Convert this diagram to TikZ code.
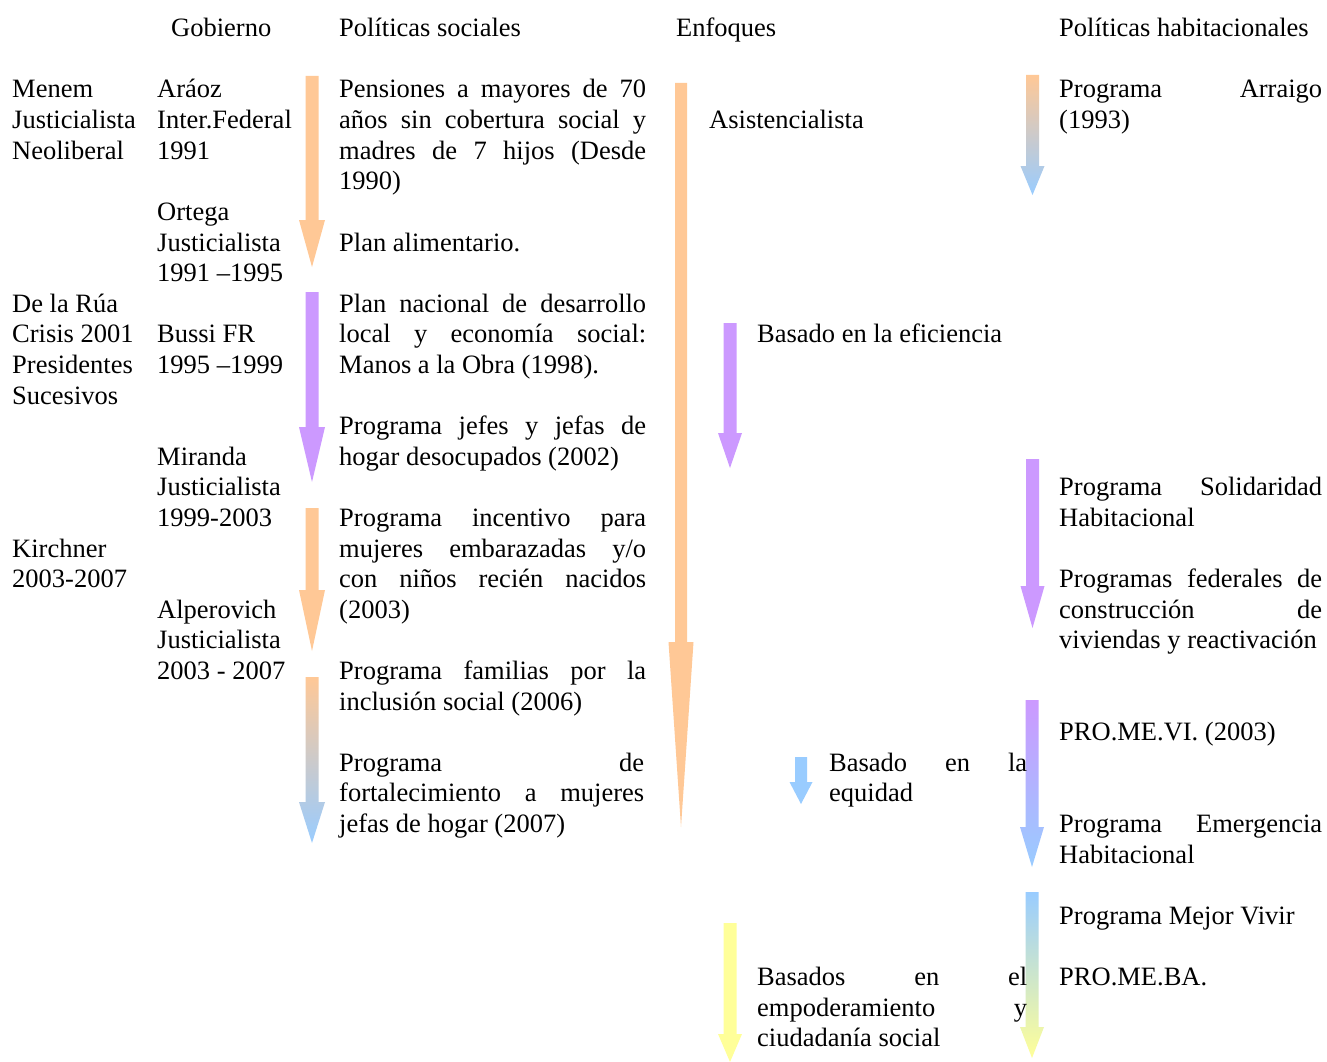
\documentclass[tikz,border=0pt]{standalone}
\usepackage{fontspec}
\setmainfont{Liberation Serif}
\hbadness=10000
\definecolor{orA}{HTML}{FFC896}
\definecolor{puA}{HTML}{CC99FF}
\definecolor{blA}{HTML}{99CCFF}
\definecolor{yeA}{HTML}{FFFF99}
\newcommand\myfnt{\fontsize{26.5}{30.6}\selectfont}
\newcommand\jblk[5]{\node[txt] (#1) at (#2,{98+30.6*(#3)}) {\parbox[t]{#4pt}{\myfnt #5}};}
\newcommand\rblk[5]{\node[txt] (#1) at (#2,{98+30.6*(#3)}) {\parbox[t]{#4pt}{\myfnt\raggedright #5}};}
\newcommand\arw[6]{(#1-#5,#2) -- (#1+#5,#2) -- (#1+#5,#3) -- (#1+#6,#3) -- (#1,#4) -- (#1-#6,#3) -- (#1-#5,#3) -- cycle}
\begin{document}
\begin{tikzpicture}[x=1pt,y=-1pt,
  txt/.style={anchor=base west,inner sep=0pt,font=\myfnt}]
\useasboundingbox (0,0) rectangle (1327,1062);
\fill[white] (0,0) rectangle (1327,1062);

% arrows
\fill[orA] \arw{312}{76}{220}{267}{6.5}{13};
\fill[puA] \arw{312}{292}{427}{482}{6.5}{13};
\fill[orA] \arw{312}{508}{590}{651}{6.5}{13};
\shade[top color=orA,bottom color=blA] \arw{312}{677}{802}{843}{6.5}{13};
\fill[orA] \arw{681}{83}{642}{827}{6}{12.5};
\fill[puA] \arw{730}{323}{433}{468}{6.5}{12};
\fill[blA] \arw{801}{757}{782}{804}{6}{11.5};
\fill[yeA] \arw{730}{923}{1034}{1062}{6.5}{12};
\shade[top color=orA,bottom color=blA] \arw{1032.5}{75}{166}{195}{6.5}{12};
\fill[puA] \arw{1032.5}{459}{586}{628}{6.5}{12};
\shade[top color=puA,bottom color=blA] \arw{1032}{700}{827}{867}{6.5}{12};
\shade[top color=blA,bottom color=yeA] \arw{1032}{892}{1027}{1058}{6.5}{12};

% headers
\rblk{hGob}{171}{-2}{200}{Gobierno}
\rblk{hPol}{339}{-2}{300}{Políticas sociales}
\rblk{hEnf}{676}{-2}{300}{Enfoques}
\rblk{hHab}{1059}{-2}{268}{Políticas habitacionales}

% column 1
\rblk{gA}{12}{0}{140}{Menem\\Justicialista\\Neoliberal}
\rblk{gB}{12}{7}{140}{De la Rúa\\Crisis 2001\\Presidentes\\Sucesivos}
\rblk{gC}{12}{15}{140}{Kirchner\\2003-2007}

% column 2
\rblk{hA}{157}{0}{150}{Aráoz\\Inter.Federal\\1991}
\rblk{hB}{157}{4}{150}{Ortega\\Justicialista\\1991 –1995}
\rblk{hC}{157}{8}{150}{Bussi FR\\1995 –1999}
\rblk{hD}{157}{12}{150}{Miranda\\Justicialista\\1999-2003}
\rblk{hE}{157}{17}{150}{Alperovich\\Justicialista\\2003 - 2007}

% column 3
\jblk{pA}{339}{0}{307}{Pensiones a mayores de 70\linebreak años sin cobertura social y\linebreak madres de 7 hijos (Desde\linebreak 1990)}
\rblk{pB}{339}{5}{307}{Plan alimentario.}
\jblk{pC}{339}{7}{307}{Plan nacional de desarrollo\linebreak local y economía social:\linebreak Manos a la Obra (1998).}
\jblk{pD}{339}{11}{307}{Programa jefes y jefas de\linebreak hogar desocupados (2002)}
\jblk{pE}{339}{14}{307}{Programa incentivo para\linebreak mujeres embarazadas y/o\linebreak con niños recién nacidos\linebreak (2003)}
\jblk{pF}{339}{19}{307}{Programa familias por la\linebreak inclusión social (2006)}
\jblk{pG}{339}{22}{305}{Programa de\linebreak fortalecimiento a mujeres\linebreak jefas de hogar (2007)}

% column 4
\rblk{eA}{709}{1}{300}{Asistencialista}
\rblk{eB}{757}{8}{300}{Basado en la eficiencia}
\jblk{eC}{829}{22}{198}{Basado en la\linebreak equidad}
\jblk{eD}{757}{29}{270}{Basados en el\linebreak empoderamiento y\linebreak ciudadanía social}

% column 5
\jblk{rA}{1059}{0}{263}{Programa Arraigo\linebreak (1993)}
\jblk{rB}{1059}{13}{263}{Programa Solidaridad\linebreak Habitacional}
\jblk{rC}{1059}{16}{263}{Programas federales de\linebreak construcción de\linebreak viviendas y reactivación}
\rblk{rD}{1059}{21}{263}{PRO.ME.VI. (2003)}
\jblk{rE}{1059}{24}{263}{Programa Emergencia\linebreak Habitacional}
\rblk{rF}{1059}{27}{263}{Programa Mejor Vivir}
\rblk{rG}{1059}{29}{263}{PRO.ME.BA.}
\end{tikzpicture}
\end{document}
